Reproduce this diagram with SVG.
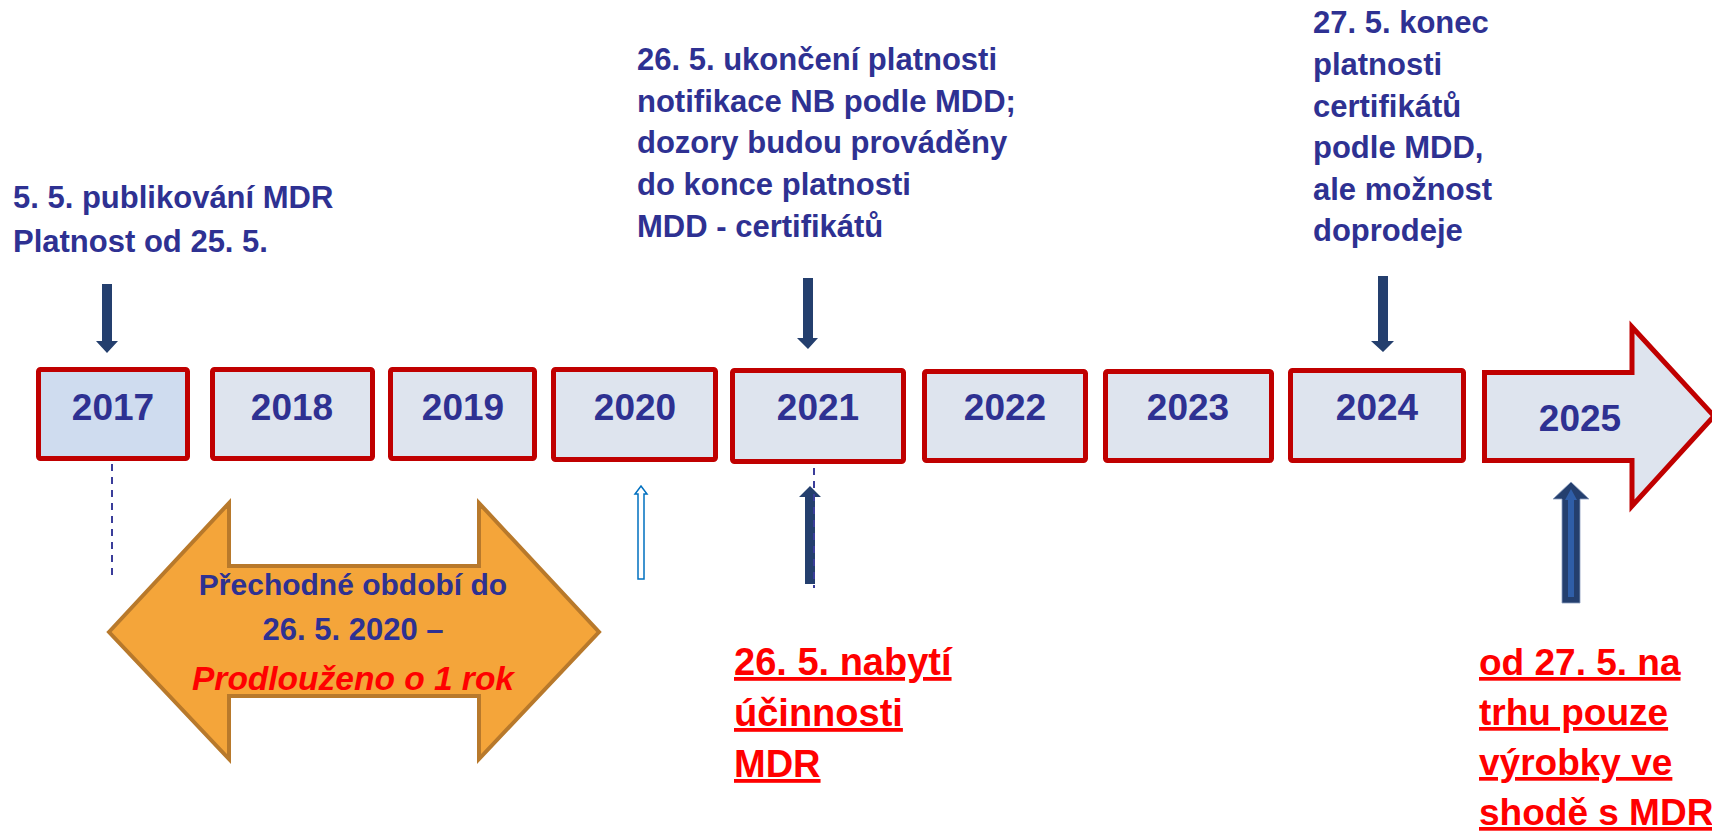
<svg xmlns="http://www.w3.org/2000/svg" width="1712" height="836" viewBox="0 0 1712 836">
  <style>
    text { font-family: "Liberation Sans", Arial, sans-serif; font-weight: bold; }
    .blue { fill: #2e3192; font-size: 31px; }
    .year { fill: #2e3192; font-size: 37px; text-anchor: middle; }
    .red { fill: #ff0000; font-size: 38px; text-decoration: underline; }
    .box { fill: #dee4ee; stroke: #c00000; stroke-width: 5; }
    .navy { fill: #243f6e; }
    .dash { stroke: #3a3d9a; stroke-width: 2; stroke-dasharray: 7 6; fill: none; }
  </style>
  <rect width="1712" height="836" fill="#ffffff"/>

  <g id="label-2017-top">
    <text class="blue" x="13" y="208">5. 5. publikování MDR</text>
    <text class="blue" x="13" y="252">Platnost od 25. 5.</text>
  </g>
  <g id="label-2021-top">
    <text class="blue" x="637" y="70">26. 5. ukončení platnosti</text>
    <text class="blue" x="637" y="112">notifikace NB podle MDD;</text>
    <text class="blue" x="637" y="153">dozory budou prováděny</text>
    <text class="blue" x="637" y="195">do konce platnosti</text>
    <text class="blue" x="637" y="237">MDD - certifikátů</text>
  </g>
  <g id="label-2024-top">
    <text class="blue" x="1313" y="33">27. 5. konec</text>
    <text class="blue" x="1313" y="75">platnosti</text>
    <text class="blue" x="1313" y="117">certifikátů</text>
    <text class="blue" x="1313" y="158">podle MDD,</text>
    <text class="blue" x="1313" y="200">ale možnost</text>
    <text class="blue" x="1313" y="241">doprodeje</text>
  </g>

  <g id="y2017"><rect class="box" x="38.5" y="369.5" width="149" height="89" rx="2" style="fill:#cfdcef"/><text class="year" x="113" y="420">2017</text></g>
  <g id="y2018"><rect class="box" x="212.5" y="369.5" width="160" height="89" rx="2"/><text class="year" x="292" y="420">2018</text></g>
  <g id="y2019"><rect class="box" x="390.5" y="369.5" width="144" height="89" rx="2"/><text class="year" x="463" y="420">2019</text></g>
  <g id="y2020"><rect class="box" x="553.5" y="369.5" width="162" height="90" rx="2"/><text class="year" x="635" y="420">2020</text></g>
  <g id="y2021"><rect class="box" x="732.5" y="370.5" width="171" height="91" rx="2"/><text class="year" x="818" y="420">2021</text></g>
  <g id="y2022"><rect class="box" x="924.5" y="371.5" width="161" height="89" rx="2"/><text class="year" x="1005" y="420">2022</text></g>
  <g id="y2023"><rect class="box" x="1105.5" y="371.5" width="166" height="89" rx="2"/><text class="year" x="1188" y="420">2023</text></g>
  <g id="y2024"><rect class="box" x="1290.5" y="370.5" width="173" height="90" rx="2"/><text class="year" x="1377" y="420">2024</text></g>
  <g id="y2025">
    <path class="box" d="M1484.5,372.5 H1632 V327 L1714,416 L1632,506 V460.5 H1484.5 Z"/>
    <text class="year" x="1580" y="431">2025</text>
  </g>

  <g id="transition-arrow">
    <path d="M109,632 L229,503 V566 H479 V503 L599,632 L479,759 V696 H229 V759 Z" fill="#f4a53a" stroke="#b8792b" stroke-width="4" stroke-linejoin="miter"/>
    <text x="353" y="595" text-anchor="middle" style="fill:#2e3192;font-size:30px">Přechodné období do</text>
    <text x="353" y="640" text-anchor="middle" style="fill:#2e3192;font-size:31px">26. 5. 2020 –</text>
    <text x="353" y="690" text-anchor="middle" style="fill:#ff0000;font-size:33.5px;font-style:italic">Prodlouženo o 1 rok</text>
  </g>

  <g id="label-2021-bottom">
    <text class="red" x="734" y="675">26. 5. nabytí</text>
    <text class="red" x="734" y="726">účinnosti</text>
    <text class="red" x="734" y="777">MDR</text>
  </g>
  <g id="label-2025-bottom">
    <text class="red" x="1479" y="675" style="font-size:37px">od 27. 5. na</text>
    <text class="red" x="1479" y="725" style="font-size:37px">trhu pouze</text>
    <text class="red" x="1479" y="775" style="font-size:37px">výrobky ve</text>
    <text class="red" x="1479" y="825" style="font-size:37px">shodě s MDR</text>
  </g>

  <g id="connectors">
    <path class="navy" d="M102,284 H112 V341 H118 L107,353 L96,341 H102 Z"/>
    <path class="navy" d="M803,278 H813 V338 H818 L808,349 L797,338 H803 Z"/>
    <path class="navy" d="M1378,276 H1388 V341 H1394 L1383,352 L1371,341 H1378 Z"/>
    <line class="dash" x1="112" y1="464" x2="112" y2="578"/>
    <path d="M638,579 V494 H635 L641,486 L647,494 H644 V579 Z" fill="#ffffff" stroke="#0070c0" stroke-width="1.5"/>
    <path class="navy" d="M805,584 V497 H799 L810,486 L821,497 H815 V584 Z"/>
    <line class="dash" x1="814" y1="468" x2="814" y2="588"/>
    <path d="M1562,603 V499 H1553 L1571,482 L1589,499 H1580 V603 Z" fill="#243f6e" stroke="#8ea0c0" stroke-width="0.8"/>
    <path d="M1568,597 V500 H1565 L1571,489 L1577,500 H1574 V597 Z" fill="#2f5ea8"/>
  </g>
</svg>
